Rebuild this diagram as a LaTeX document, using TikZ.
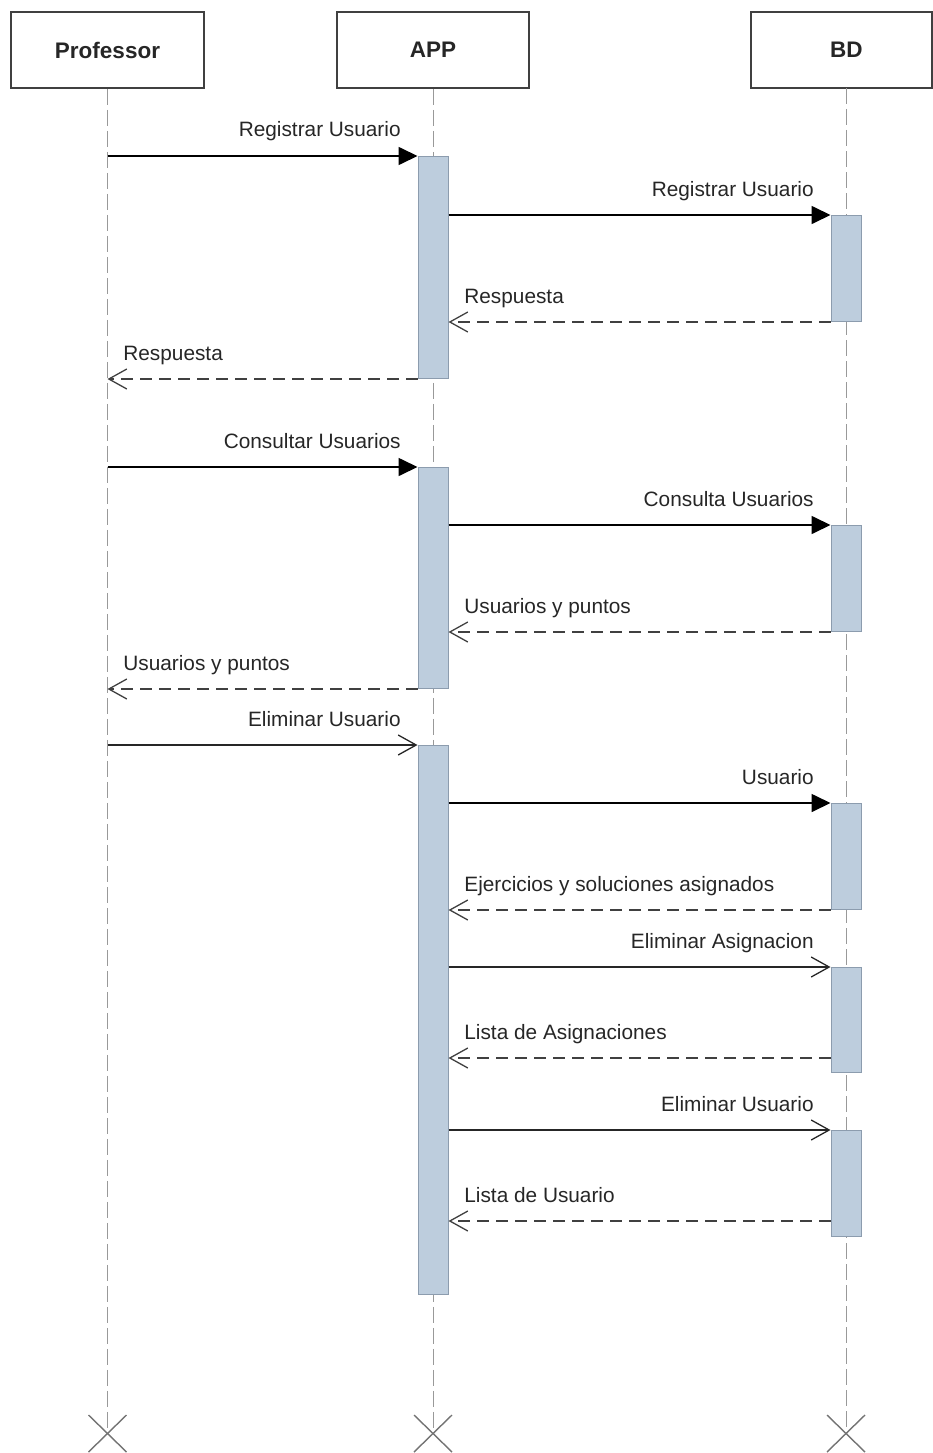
\documentclass[tikz,border=0pt]{standalone}
\usepackage{fontspec}
\setmainfont{Liberation Sans}
\usetikzlibrary{arrows.meta}

\definecolor{barfill}{HTML}{BDCDDD}
\definecolor{barline}{HTML}{8C9CAE}

\begin{document}
\begin{tikzpicture}[
  x=1pt, y=-1pt,
  font=\fontsize{20.8}{24}\selectfont,
  actor/.style={
    draw=black!75,
    line width=1.6pt,
    fill=white,
    minimum width=193pt,
    minimum height=76pt,
    inner sep=0pt,
    text=black!85,
    font=\fontsize{22.5}{26}\selectfont\bfseries
  },
  lifeline/.style={draw=black!40, line width=1pt, dash pattern=on 16pt off 5pt},
  bar/.style={
    draw=barline,
    fill=barfill,
    line width=1pt,
    minimum width=30pt,
    inner sep=0pt,
    anchor=north
  },
  call/.style={draw=black, line width=1.7pt, -{Triangle[length=19pt,width=18pt]}},
  async/.style={draw=black!85, line width=1.7pt, -{Straight Barb[length=18pt,width=20pt,line width=1.3pt]}},
  reply/.style={draw=black!75, line width=1.8pt, dash pattern=on 12pt off 7pt,
    -{Straight Barb[length=18pt,width=20pt,line width=1.3pt]}},
  msg/.style={text=black!85, inner sep=0pt, pos=1, yshift=19pt},
  msgl/.style={msg, anchor=base east, xshift=-16pt},
  msgr/.style={msg, anchor=base west, xshift=15pt},
  kill/.style={draw=black!55, line width=1.4pt}
]
\useasboundingbox (0,0) rectangle (933,1453);

% Actors
\node[actor] (prof) at (107.5,50) {Professor};
\node[actor, minimum width=192pt] (app) at (433,50) {APP};
\node[actor, minimum width=181pt, anchor=west] (bd) at (750,50) {\hspace*{10pt}BD};

% Lifelines
\coordinate (profend) at (107.5,1433);
\coordinate (append) at (433,1433);
\coordinate (bdtop) at (846,88);
\coordinate (bdend) at (846,1433);
\draw[lifeline] (prof.south) -- (profend);
\draw[lifeline] (app.south) -- (append);
\draw[lifeline] (bdtop) -- (bdend);

% Activation bars
\node[bar, minimum height=222pt] (app1) at (433,156) {};
\node[bar, minimum height=106pt] (bd1) at (846,215) {};
\node[bar, minimum height=221pt] (app2) at (433,467) {};
\node[bar, minimum height=106pt] (bd2) at (846,525) {};
\node[bar, minimum height=549pt] (app3) at (433,745) {};
\node[bar, minimum height=106pt] (bd3) at (846,803) {};
\node[bar, minimum height=105pt] (bd4) at (846,967) {};
\node[bar, minimum height=106pt] (bd5) at (846,1130) {};
\coordinate (ret4) at ([yshift=15pt]bd4.south west);
\coordinate (ret5) at ([yshift=16pt]bd5.south west);

% Registrar
\draw[call] (prof.south |- app1.north west) -- (app1.north west) node[msgl] {Registrar Usuario};
\draw[call] (app1.east |- bd1.north west) -- (bd1.north west) node[msgl] {Registrar Usuario};
\draw[reply] (bd1.south west) -- (app1.east |- bd1.south west) node[msgr] {Respuesta};
\draw[reply] (app1.south west) -- (app1.south west -| prof.south) node[msgr] {Respuesta};

% Consultar
\draw[call] (prof.south |- app2.north west) -- (app2.north west) node[msgl] {Consultar Usuarios};
\draw[call] (app2.east |- bd2.north west) -- (bd2.north west) node[msgl] {Consulta Usuarios};
\draw[reply] (bd2.south west) -- (app2.east |- bd2.south west) node[msgr] {Usuarios y puntos};
\draw[reply] (app2.south west) -- (app2.south west -| prof.south) node[msgr] {Usuarios y puntos};

% Eliminar
\draw[async] (prof.south |- app3.north west) -- (app3.north west) node[msgl] {Eliminar Usuario};
\draw[call] (app3.east |- bd3.north west) -- (bd3.north west) node[msgl] {Usuario};
\draw[reply] (bd3.south west) -- (app3.east |- bd3.south west) node[msgr] {Ejercicios y soluciones asignados};
\draw[async] (app3.east |- bd4.north west) -- (bd4.north west) node[msgl] {Eliminar Asignacion};
\draw[reply] (ret4) -- (app3.east |- ret4) node[msgr] {Lista de Asignaciones};
\draw[async] (app3.east |- bd5.north west) -- (bd5.north west) node[msgl] {Eliminar Usuario};
\draw[reply] (ret5) -- (app3.east |- ret5) node[msgr] {Lista de Usuario};

% Destruction
\draw[kill] (profend) +(-19,-18) -- +(19,19) (profend) +(-19,19) -- +(19,-18);
\draw[kill] (append) +(-19,-18) -- +(19,19) (append) +(-19,19) -- +(19,-18);
\draw[kill] (bdend) +(-19,-18) -- +(19,19) (bdend) +(-19,19) -- +(19,-18);

\end{tikzpicture}
\end{document}
